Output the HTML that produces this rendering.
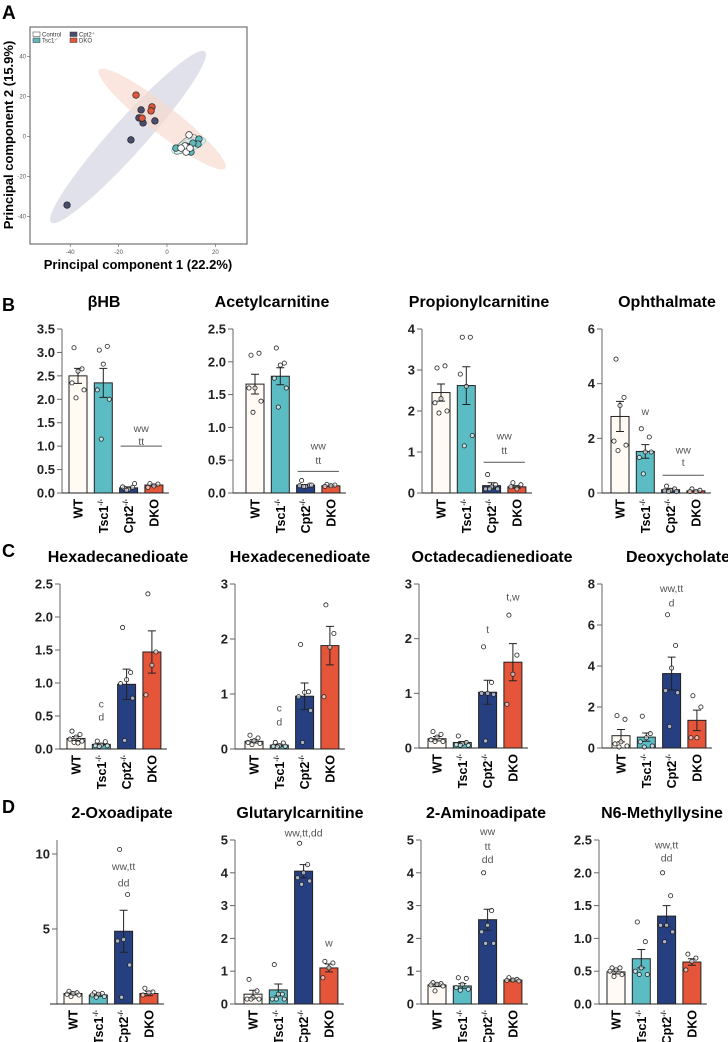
<!DOCTYPE html>
<html><head><meta charset="utf-8">
<style>
html,body{margin:0;padding:0;background:#fff;}
svg{display:block;font-family:"Liberation Sans",Arial,sans-serif;}
</style></head>
<body>
<svg id="fig" width="728" height="1042" viewBox="0 0 728 1042" xmlns="http://www.w3.org/2000/svg">
<text x="2" y="19" font-size="19" font-weight="bold">A</text>
<text x="2" y="311" font-size="18" font-weight="bold">B</text>
<text x="2" y="557" font-size="18" font-weight="bold">C</text>
<text x="2" y="813" font-size="18" font-weight="bold">D</text>
<g id="pca"></g>
<g id="bars"></g>
</svg>
<script>
// ---------- PCA data ----------
const pcaCtrlX=[9.1,7.4,7.9,5.8,9.5];
const pcaCtrlY=[0.8,-4.7,-7.8,-5.8,-5.8];
const pcaTscX=[3.7,13.2,12.8,10.7,9.9,7.9];
const pcaTscY=[-5.8,-1.3,-3.8,-3.3,-7.8,-4.8];
const pcaCptX=[-10.7,-11.6,-9.9,-5.0,-14.9,-41.3];
const pcaCptY=[13.3,9.3,6.8,7.8,-1.7,-34.3];
const pcaDkoX=[-12.8,-6.2,-6.6,-10.3,9.5];
const pcaDkoY=[20.7,14.8,12.8,9.2,-5.3];
const pcaXTicks=[-40,-20,0,20];
const pcaYTicks=[40,20,0,-20,-40];

const NS="http://www.w3.org/2000/svg";
function mk(tag,attrs,parent){const e=document.createElementNS(NS,tag);for(const k in attrs)e.setAttribute(k,attrs[k]);parent.appendChild(e);return e;}

const pca=document.getElementById('pca');
const px=v=>167+v*2.42;
const py=v=>136.5-v*2.0;
(function(){
  let r=mk('rect',{x:30,y:27,width:217,height:217,fill:'none',stroke:'#555','stroke-width':1},pca);
  
  
  // ellipses
  let e1=mk('ellipse',{cx:px(-16.1),cy:py(-0.25),rx:115,ry:17,fill:'#d9dae6','fill-opacity':0.8,transform:`rotate(-48 ${px(-16.1)} ${py(-0.25)})`},pca);
  
  
  let e2=mk('ellipse',{cx:px(-2),cy:py(8.7),rx:80,ry:14,fill:'#f8d9cc','fill-opacity':0.65,transform:`rotate(38 ${px(-2)} ${py(8.7)})`},pca);
  
  
  let e3=mk('ellipse',{cx:px(9),cy:py(-4.5),rx:18,ry:6,fill:'#cfe9ea','fill-opacity':0.6,stroke:'#7cc','stroke-width':0.6,transform:`rotate(-20 ${px(9)} ${py(-4.5)})`},pca);
  
  
  let e4=mk('ellipse',{cx:px(7.6),cy:py(-4),rx:14,ry:5,fill:'none',stroke:'#666','stroke-width':0.6,transform:`rotate(-40 ${px(7.6)} ${py(-4)})`},pca);
  
  
  function pts(xs,ys,fill,name){xs.forEach((x,i)=>{let c=mk('circle',{cx:px(x),cy:py(ys[i]),r:3.3,fill:fill,stroke:'#222','stroke-width':0.7},pca);
    
    });}
  pts(pcaCptX,pcaCptY,'#4a4c6e','pca-point-cpt2');
  pts(pcaDkoX,pcaDkoY,'#e0573c','pca-point-dko');
  pts(pcaTscX,pcaTscY,'#5fb8bc','pca-point-tsc1');
  pts(pcaCtrlX,pcaCtrlY,'#ffffff','pca-point-control');
  pcaXTicks.forEach(t=>{mk('line',{x1:px(t),x2:px(t),y1:244,y2:247,stroke:'#555','stroke-width':0.6},pca);
    let tx=mk('text',{x:px(t),y:254,'font-size':6,'text-anchor':'middle',fill:'#555'},pca);tx.textContent=t;
    
    });
  pcaYTicks.forEach(t=>{mk('line',{x1:27,x2:30,y1:py(t),y2:py(t),stroke:'#555','stroke-width':0.6},pca);
    let tx=mk('text',{x:26,y:py(t)+2,'font-size':6,'text-anchor':'end',fill:'#555'},pca);tx.textContent=t;
    
    });
  let xl=mk('text',{x:138,y:269,'font-size':13,'font-weight':'bold','text-anchor':'middle'},pca);xl.textContent='Principal component 1 (22.2%)';
  
  
  let yl=mk('text',{x:0,y:0,'font-size':13,'font-weight':'bold','text-anchor':'middle',transform:'translate(13,135) rotate(-90)'},pca);yl.textContent='Principal component 2 (15.9%)';
  
  
  const leg=[['Control','#fff',33,32],['Tsc1','#5fb8bc',33,38],['Cpt2','#4a4c6e',70,32],['DKO','#e0573c',70,38]];
  leg.forEach(l=>{let s=mk('rect',{x:l[2],y:l[3],width:7,height:4.5,fill:l[1],stroke:'#333','stroke-width':0.5},pca);
    
    
    let t=mk('text',{x:l[2]+9,y:l[3]+4.5,'font-size':6,fill:'#333'},pca);t.textContent=l[0];
    
    
    if(l[0]!=='Control'&&l[0]!=='DKO'){let s2=mk('tspan',{'font-size':3.5,dy:-2},t);s2.textContent='-/-';}});
})();

// ---------- bar panel data ----------
const titles=['βHB','Acetylcarnitine','Propionylcarnitine','Ophthalmate','Hexadecanedioate','Hexadecenedioate','Octadecadienedioate','Deoxycholate','2-Oxoadipate','Glutarylcarnitine','2-Aminoadipate','N6-Methyllysine'];
const categories=['WT','Tsc1','Cpt2','DKO'];
const yMaxes=[3.5,2.5,4,6,2.5,3,3,8,10,5,5,2.5];
const tickLists=[[0,0.5,1,1.5,2,2.5,3,3.5],[0,0.5,1,1.5,2,2.5],[0,1,2,3,4],[0,2,4,6],[0,0.5,1,1.5,2,2.5],[0,1,2,3],[0,1,2,3],[0,2,4,6,8],[5,10],[0,1,2,3,4,5],[0,1,2,3,4,5],[0,0.5,1,1.5,2,2.5]];
const tickDecimals=[1,1,0,0,1,0,0,0,0,0,0,1];
const means=[[2.5,2.35,0.11,0.17],[1.66,1.78,0.12,0.11],[2.45,2.62,0.18,0.15],[2.8,1.52,0.12,0.08],[0.16,0.07,0.98,1.47],[0.14,0.07,0.96,1.88],[0.17,0.1,1.02,1.57],[0.6,0.53,3.63,1.35],[0.7,0.6,4.85,0.7],[0.3,0.43,4.05,1.1],[0.58,0.55,2.57,0.73],[0.49,0.69,1.34,0.64]];
const sems=[[0.16,0.31,0.02,0.02],[0.15,0.13,0.01,0.01],[0.21,0.46,0.07,0.03],[0.55,0.25,0.04,0.02],[0.03,0.01,0.23,0.32],[0.03,0.02,0.24,0.35],[0.04,0.02,0.22,0.34],[0.3,0.2,0.8,0.5],[0.1,0.08,1.4,0.15],[0.12,0.18,0.2,0.12],[0.05,0.07,0.32,0.03],[0.03,0.14,0.16,0.05]];
const points=[
 [[3.1,2.65,2.6,2.35,2.2,2.03],[3.05,3.13,2.75,2.2,2.0,1.15],[0.1,0.12,0.08,0.13,0.2,0.06],[0.2,0.19,0.15,0.12]],
 [[2.1,2.13,1.6,1.6,1.4,1.23],[2.21,1.98,1.95,1.75,1.6,1.31],[0.19,0.12,0.1,0.11,0.12,0.1],[0.13,0.12,0.11,0.1]],
 [[3.05,3.1,2.3,2.2,2.0,1.95],[3.8,3.8,2.6,2.9,1.4,1.15],[0.45,0.2,0.15,0.1,0.1,0.1],[0.25,0.2,0.1,0.15]],
 [[4.9,3.5,3.2,1.9,1.75,1.55],[2.35,2.05,1.5,1.3,1.5,0.7],[0.25,0.15,0.1,0.08,0.05,0.05],[0.15,0.1,0.05,0.05]],
 [[0.27,0.22,0.18,0.15,0.12,0.1,0.09],[0.12,0.11,0.06,0.05,0.05,0.04],[1.84,1.16,1.05,0.99,0.77,0.13],[2.35,1.47,1.27,0.82]],
 [[0.25,0.2,0.15,0.12,0.1,0.08],[0.12,0.11,0.06,0.05,0.05,0.04],[1.9,1.04,1.03,0.95,0.7,0.12],[2.62,2.1,1.85,0.95]],
 [[0.3,0.25,0.2,0.15,0.12,0.12],[0.22,0.1,0.08,0.06,0.05,0.05],[1.85,1.2,1.0,1.0,0.98,0.13],[2.43,1.7,1.35,0.8]],
 [[1.58,1.4,0.3,0.2,0.1,0.05],[1.55,0.7,0.5,0.3,0.1,0.05],[6.5,5.0,3.9,2.8,2.7,1.05],[2.55,2.0,0.5,0.5]],
 [[0.85,0.75,0.7,0.65,0.6,0.5],[0.75,0.7,0.65,0.6,0.5,0.45],[10.3,7.3,4.3,4.2,2.6,0.45],[1.05,0.8,0.75,0.6]],
 [[0.75,0.4,0.2,0.15,0.15,0.15],[1.2,0.3,0.3,0.15,0.15,0.15],[4.9,4.25,4.0,3.85,3.75,3.65],[1.3,1.25,1.1,0.8]],
 [[0.65,0.62,0.6,0.58,0.55,0.4],[0.8,0.78,0.6,0.5,0.45,0.42],[4.0,2.85,2.4,2.2,1.85,1.85],[0.8,0.75,0.73,0.72,0.7]],
 [[0.55,0.55,0.52,0.5,0.45,0.42],[1.25,0.95,0.55,0.5,0.45,0.45],[2.0,1.65,1.2,1.2,1.1,0.95],[0.76,0.7,0.65,0.52]]
];
// annotations: [panel, groupIndex (or 2.5 = between), value, text]
const annotations=[
 [0,2.5,1.3,'ww'],[0,2.5,1.02,'tt'],[1,2.5,0.66,'ww'],[1,2.5,0.44,'tt'],
 [2,2.5,1.3,'ww'],[2,2.5,0.95,'tt'],[3,1,2.85,'w'],[3,2.5,1.45,'ww'],[3,2.5,0.98,'t'],
 [4,1,0.63,'c'],[4,1,0.43,'d'],[5,1,0.68,'c'],[5,1,0.43,'d'],
 [6,2,2.1,'t'],[6,3,2.7,'t,w'],[7,2,7.6,'ww,tt'],[7,2,6.9,'d'],
 [8,2,8.95,'ww,tt'],[8,2,7.85,'dd'],[9,2,5.1,'ww,tt,dd'],[9,3,1.75,'w'],
 [10,2,5.15,'ww'],[10,2,4.7,'tt'],[10,2,4.3,'dd'],[11,2,2.37,'ww,tt'],[11,2,2.17,'dd']
];
const sigLines=[[0,1.0],[1,0.33],[2,0.75],[3,0.65]];

// ---------- layout (pixels, not data) ----------
const axX=[62,233,422,602,60,235,419,602,57,235,421,599];
const bar0=[69,246,432,611,67,245,428,612,64,244,428,607];
const rowTop=[329,329,329,329,584,584,584,584,854,840,840,840];
const rowBot=[493,493,493,493,749,749,748,748,1004,1004,1004,1004];
const axisTopPx=[329,329,329,329,584,584,584,584,840,840,840,840];
const titleX=[104,272,479,667,118,300,492,678,122,300,486,662];
const titleY=[307,307,307,307,562,562,562,562,818,818,818,818];
const colors=['#fffaf4','#5cbcc4','#253f80','#e5553a'];
const PITCH=25.3, BW=18;
const jit=[-4,4,0,-6,6,-2,2,-5];

const bars=document.getElementById('bars');
for(let p=0;p<12;p++){
  const g=mk('g',{},bars);
  
  
  const y=v=>rowBot[p]-(v/yMaxes[p])*(rowBot[p]-rowTop[p]);
  const xc=i=>bar0[p]+i*PITCH+BW/2;
  const xEnd=bar0[p]+3*PITCH+BW+6;
  let t=mk('text',{x:titleX[p],y:titleY[p],'font-size':16,'font-weight':'bold','text-anchor':'middle'},g);t.textContent=titles[p];
  
  
  // axes
  let ya=mk('line',{x1:axX[p],x2:axX[p],y1:axisTopPx[p],y2:rowBot[p],stroke:'#666','stroke-width':1},g);
  
  
  let xa=mk('line',{x1:p===8?50:axX[p],x2:xEnd,y1:rowBot[p],y2:rowBot[p],stroke:'#222','stroke-width':1},g);
  
  
  tickLists[p].forEach(v=>{
    mk('line',{x1:axX[p]-5,x2:axX[p],y1:y(v),y2:y(v),stroke:'#666','stroke-width':1},g);
    let tl=mk('text',{x:axX[p]-7,y:y(v)+4.5,'font-size':13,'font-weight':'bold','text-anchor':'end',fill:'#222'},g);
    tl.textContent=v.toFixed(tickDecimals[p]);
    
    
  });
  for(let i=0;i<4;i++){
    let b=mk('rect',{x:bar0[p]+i*PITCH,y:y(means[p][i]),width:BW,height:rowBot[p]-y(means[p][i]),fill:colors[i],stroke:'#222','stroke-width':1},g);
    
    
    const yt=y(means[p][i]+sems[p][i]), yb=y(Math.max(0,means[p][i]-sems[p][i]));
    let eb=mk('path',{d:`M${xc(i)},${yb}V${yt}M${xc(i)-4},${yt}H${xc(i)+4}M${xc(i)-4},${yb}H${xc(i)+4}`,stroke:'#222','stroke-width':1,fill:'none'},g);
    
    
    points[p][i].forEach((v,k)=>{
      let c=mk('circle',{cx:xc(i)+jit[k%jit.length],cy:y(v),r:2.1,fill:'#fff',stroke:'#222','stroke-width':0.8,'fill-opacity':0.6},g);
      
      
    });
    // category label
    let cl=mk('text',{x:0,y:0,'font-size':12.5,'font-weight':'bold','text-anchor':'end',transform:`translate(${xc(i)+4.5},${rowBot[p]+6}) rotate(-90)`},g);
    cl.textContent=categories[i];
    if(i===1||i===2){let s=mk('tspan',{'font-size':7,dy:-5},cl);s.textContent='-/-';}
    
    
  }
  sigLines.filter(s=>s[0]===p).forEach(s=>{
    let l=mk('line',{x1:xc(2)-8,x2:xc(3)+8,y1:y(s[1]),y2:y(s[1]),stroke:'#555','stroke-width':1},g);
    
    
  });
  annotations.filter(a=>a[0]===p).forEach(a=>{
    const x=a[1]===2.5?(xc(2)+xc(3))/2:xc(a[1]);
    let at=mk('text',{x:x,y:y(a[2]),'font-size':10.5,'text-anchor':'middle',fill:'#555'},g);
    at.textContent=a[3];
    
    
  });
}
</script>
</body></html>
